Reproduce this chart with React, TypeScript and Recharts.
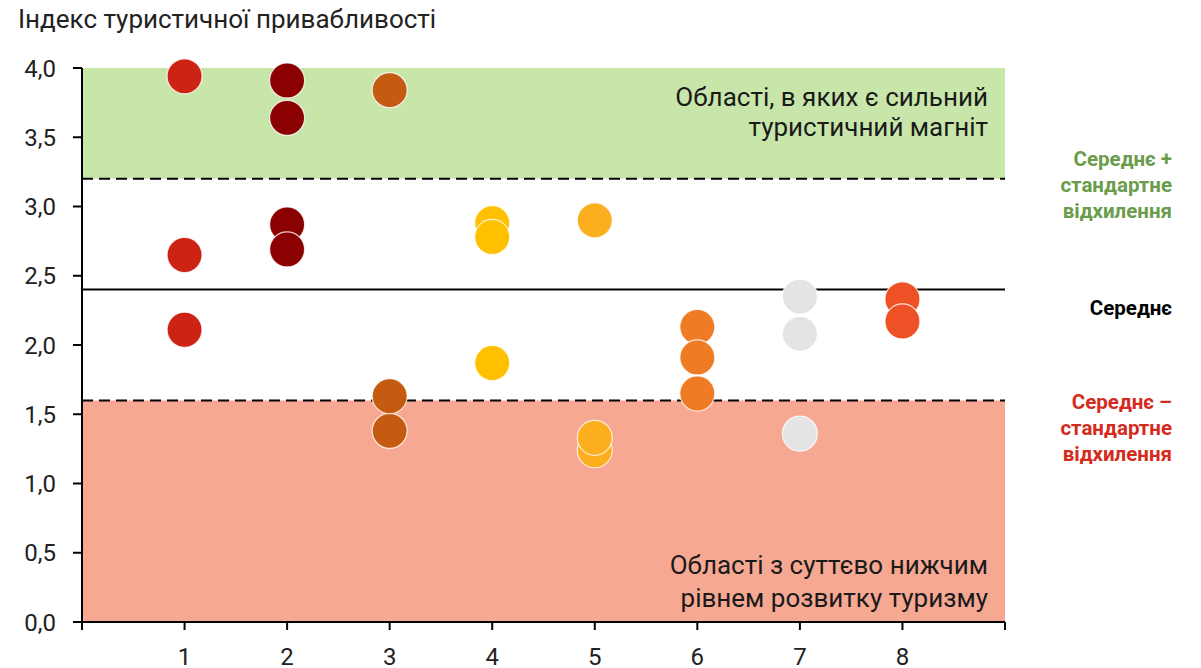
import React from 'react';
import {
  ScatterChart, Scatter, XAxis, YAxis, ReferenceArea, ReferenceLine,
} from 'recharts';

// groups 1..8 and the index values in each group
const groups = [1, 2, 3, 4, 5, 6, 7, 8];
const groupValues = [
  [3.94, 2.65, 2.11],
  [3.91, 3.64, 2.87, 2.69],
  [3.84, 1.38, 1.63],
  [2.88, 2.78, 1.87],
  [2.90, 1.24, 1.33],
  [2.13, 1.91, 1.65],
  [2.35, 2.08, 1.36],
  [2.33, 2.17],
];
const groupColors = ['#CC2314', '#8B0000', '#C55A11', '#FFC000', '#FBAE1E', '#EF7B24', '#E4E4E4', '#EF5127'];

const yTicks = [0, 0.5, 1, 1.5, 2, 2.5, 3, 3.5, 4];
const xTicks = [0, 1, 2, 3, 4, 5, 6, 7, 8, 9];

const mean = 2.4;
const upper = 3.2;
const lower = 1.6;

const title = 'Індекс туристичної привабливості';
const topBandText = ['Області, в яких є сильний', 'туристичний магніт'];
const bottomBandText = ['Області з суттєво нижчим', 'рівнем розвитку туризму'];
const upperLabel = ['Середнє +', 'стандартне', 'відхилення'];
const meanLabel = ['Середнє'];
const lowerLabel = ['Середнє –', 'стандартне', 'відхилення'];

const FONT = 'Roboto, sans-serif';
const LABEL_X = 1164; // right edge of side labels

const sideLabel = (lines: string[], color: string, dy: number) => (props: any) => {
  const { viewBox } = props;
  const y0 = viewBox.y + dy;
  return (
    <text x={LABEL_X} y={y0} textAnchor="end" fontFamily={FONT} fontWeight={700} fontSize={20.5} fill={color}>
      {lines.map((l, i) => (
        <tspan key={i} x={LABEL_X} dy={i === 0 ? 0 : 26}>{l}</tspan>
      ))}
    </text>
  );
};

const bandLabel = (lines: string[], dy: number, gap: number) => (props: any) => {
  const { viewBox } = props;
  const x = viewBox.x + viewBox.width - 17;
  return (
    <text x={x} y={viewBox.y + dy} textAnchor="end" fontFamily={FONT} fontSize={26} fill="#1a1a1a">
      {lines.map((l, i) => (
        <tspan key={i} x={x} dy={i === 0 ? 0 : gap}>{l}</tspan>
      ))}
    </text>
  );
};

const Dot = (color: string) => (props: any) => (
  <circle cx={props.cx} cy={props.cy} r={17.5} fill={color} stroke="#fff" strokeOpacity={0.8} strokeWidth={1.2} />
);

export default function App() {
  return (
    <div style={{ position: 'relative', width: 1185, height: 660, fontFamily: FONT }}>
      <div style={{ position: 'absolute', left: 10, top: -4, fontSize: 26, color: '#222', whiteSpace: 'nowrap' }}>{title}</div>
      <ScatterChart width={1185} height={660} margin={{ top: 60, right: 188, bottom: 16, left: 0 }}>
        <ReferenceArea x1={0} x2={9} y1={upper} y2={4} fill="#C8E6A9" fillOpacity={1} stroke="none"
          label={bandLabel(topBandText, 38, 30)} />
        <ReferenceArea x1={0} x2={9} y1={0} y2={lower} fill="#F6A893" fillOpacity={1} stroke="none"
          label={bandLabel(bottomBandText, 174, 33)} />
        <XAxis
          type="number"
          dataKey="x"
          domain={[0, 9]}
          ticks={xTicks}
          interval={0}
          height={30}
          tickSize={8}
          tickMargin={18}
          tickFormatter={(v: number) => (v >= 1 && v <= 8 ? String(v) : '')}
          tick={{ fill: '#222', fontSize: 24, fontFamily: FONT }}
          axisLine={{ stroke: '#000', strokeWidth: 2 }}
          tickLine={{ stroke: '#000', strokeWidth: 2 }}
        />
        <YAxis
          type="number"
          dataKey="y"
          domain={[0, 4]}
          ticks={yTicks}
          interval={0}
          width={74}
          tickSize={9}
          tickMargin={17}
          tickFormatter={(v: number) => v.toFixed(1).replace('.', ',')}
          tick={{ fill: '#222', fontSize: 24, fontFamily: FONT }}
          axisLine={{ stroke: '#000', strokeWidth: 2 }}
          tickLine={{ stroke: '#000', strokeWidth: 2 }}
        />
        {groups.map((g, i) => (
          <Scatter
            key={g}
            data={groupValues[i].map((v) => ({ x: g, y: v }))}
            fill={groupColors[i]}
            shape={Dot(groupColors[i])}
            isAnimationActive={false}
          />
        ))}
        <ReferenceLine y={upper} stroke="#000" strokeWidth={2} strokeDasharray="11 6"
          label={sideLabel(upperLabel, '#6A9C4B', -13)} />
        <ReferenceLine y={mean} stroke="#000" strokeWidth={2}
          label={sideLabel(meanLabel, '#000', 25)} />
        <ReferenceLine y={lower} stroke="#000" strokeWidth={2} strokeDasharray="11 6"
          label={sideLabel(lowerLabel, '#D42B1E', 9)} />
      </ScatterChart>
    </div>
  );
}
